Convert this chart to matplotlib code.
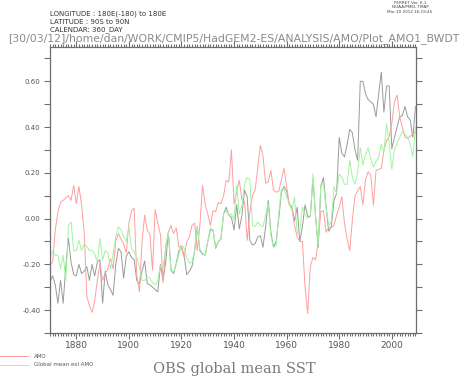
import numpy as np
import matplotlib
matplotlib.use('Agg')
import matplotlib.pyplot as plt
from matplotlib.ticker import MultipleLocator, FormatStrFormatter

# Annual values, 1870-2009
years = np.arange(1870, 2010)

amo = [
    -0.20, -0.19, -0.05, 0.03, 0.07, 0.08, 0.09, 0.10, 0.08, 0.145,     # 1870s
    0.065, 0.14, 0.06, -0.06, -0.34, -0.38, -0.41, -0.36, -0.27, -0.195,  # 1880s
    -0.27, -0.24, -0.22, -0.175, -0.22, -0.10, -0.065, -0.09, -0.11, -0.15,  # 1890s
    -0.02, 0.035, 0.045, -0.25, -0.32, -0.10, 0.015, -0.05, -0.07, -0.225,  # 1900s
    0.04, -0.02, -0.07, -0.28, -0.12, -0.06, -0.03, -0.065, -0.04, -0.125,  # 1910s
    -0.12, -0.17, -0.10, -0.08, -0.03, -0.02, -0.14, -0.03, 0.145, 0.065,  # 1920s
    0.02, -0.03, 0.035, 0.03, 0.07, 0.065, 0.10, 0.167, 0.16, 0.30,      # 1930s
    0.065, 0.12, 0.167, 0.08, 0.075, -0.095, 0.03, 0.10, 0.125, 0.22,    # 1940s
    0.32, 0.275, 0.155, 0.16, 0.21, 0.125, 0.115, 0.12, 0.17, 0.22,      # 1950s
    0.14, 0.06, 0.045, -0.03, -0.08, -0.10, -0.10, -0.30, -0.415, -0.21,  # 1960s
    -0.17, -0.18, -0.10, 0.03, 0.035, -0.06, -0.04, -0.04, -0.03, 0.015,  # 1970s
    0.05, 0.095, -0.02, -0.09, -0.14, -0.005, 0.10, 0.12, 0.14, 0.06,    # 1980s
    0.17, 0.205, 0.19, 0.06, 0.21, 0.215, 0.22, 0.30, 0.34, 0.36,        # 1990s
    0.415, 0.51, 0.54, 0.445, 0.40, 0.355, 0.35, 0.36, 0.37, 0.38,       # 2000s
]

glob_exl_amo = [
    -0.17, -0.14, -0.16, -0.16, -0.22, -0.16, -0.27, -0.03, -0.015, -0.14,
    -0.14, -0.095, -0.14, -0.11, -0.12, -0.14, -0.14, -0.155, -0.19, -0.087,
    -0.18, -0.14, -0.15, -0.22, -0.155, -0.08, -0.035, -0.05, -0.08, -0.10,
    -0.035, -0.13, -0.145, -0.17, -0.21, -0.27, -0.27, -0.255, -0.26, -0.28,
    -0.29, -0.27, -0.205, -0.21, -0.13, -0.06, -0.22, -0.235, -0.20, -0.155,
    -0.115, -0.13, -0.17, -0.195, -0.19, -0.14, -0.035, -0.135, -0.15, -0.16,
    -0.10, -0.04, -0.05, -0.125, -0.10, -0.087, 0.02, 0.035, 0.015, 0.02,
    -0.005, 0.145, 0.02, 0.06, 0.15, 0.18, 0.17, -0.03, -0.035, -0.015,
    -0.03, -0.035, 0.015, 0.065, -0.075, -0.125, -0.12, 0.02, 0.13, 0.13,
    0.095, 0.065, 0.035, 0.095, -0.065, -0.05, 0.05, 0.02, 0.0, 0.01,
    0.195, 0.005, -0.115, 0.15, 0.15, 0.05, -0.035, -0.01, 0.14, 0.11,
    0.195, 0.18, 0.15, 0.15, 0.255, 0.18, 0.15, 0.20, 0.31, 0.235,
    0.28, 0.31, 0.26, 0.225, 0.25, 0.265, 0.325, 0.29, 0.415, 0.33,
    0.215, 0.30, 0.33, 0.355, 0.38, 0.37, 0.355, 0.33, 0.27, 0.40,
]

glob_mean = [
    -0.277, -0.25, -0.29, -0.37, -0.27, -0.37, -0.21, -0.087, -0.19, -0.245,
    -0.25, -0.20, -0.24, -0.23, -0.21, -0.27, -0.20, -0.25, -0.19, -0.18,
    -0.37, -0.23, -0.29, -0.31, -0.335, -0.20, -0.13, -0.145, -0.26, -0.165,
    -0.145, -0.17, -0.18, -0.27, -0.285, -0.23, -0.185, -0.285, -0.29, -0.30,
    -0.31, -0.32, -0.20, -0.27, -0.19, -0.06, -0.225, -0.24, -0.195, -0.14,
    -0.125, -0.16, -0.245, -0.23, -0.21, -0.14, -0.035, -0.14, -0.155, -0.16,
    -0.10, -0.05, -0.05, -0.13, -0.10, -0.09, 0.02, 0.05, 0.015, 0.005,
    -0.05, 0.06, -0.045, 0.015, 0.125, 0.095, -0.095, -0.115, -0.11, -0.08,
    -0.075, -0.125, -0.035, 0.08, -0.06, -0.125, -0.10, 0.0, 0.115, 0.14,
    0.12, 0.065, 0.05, -0.01, 0.05, -0.10, -0.035, 0.06, 0.01, 0.01,
    0.175, 0.01, -0.125, 0.14, 0.18, 0.05, -0.055, -0.035, 0.08, 0.11,
    0.355, 0.285, 0.27, 0.325, 0.39, 0.375, 0.30, 0.255, 0.60, 0.60,
    0.545, 0.52, 0.51, 0.50, 0.445, 0.545, 0.64, 0.465, 0.58, 0.58,
    0.305, 0.355, 0.40, 0.445, 0.45, 0.49, 0.445, 0.43, 0.355, 0.49,
]

header_lines = ['LONGITUDE : 180E(-180) to 180E', 'LATITUDE : 90S to 90N', 'CALENDAR: 360_DAY']
ferret_lines = ['FERRET Ver. 6.1', 'NOAA/PMEL TMAP', 'Mar 30 2012 16:19:45']
path_title = '[30/03/12]/home/dan/WORK/CMIP5/HadGEM2-ES/ANALYSIS/AMO/Plot_AMO1_BWDT'
bottom_title = 'OBS global mean SST'

red = '#ff9e9e'
green = '#a0f5a0'
gray = '#9a9a9a'
axis_col = '#6e6e6e'

fig = plt.figure(figsize=(4.61, 3.77), dpi=100)
ax = fig.add_axes([0.1085, 0.1167, 0.7939, 0.7586])

ax.plot(years, glob_mean, color=gray, linewidth=0.7)
ax.plot(years, amo, color=red, linewidth=0.7)
ax.plot(years, glob_exl_amo, color=green, linewidth=0.7)

ax.set_xlim(1870, 2009.2)
ax.set_ylim(-0.5, 0.75)

# ferret style ticks: outward on all four sides
ax.xaxis.set_major_locator(MultipleLocator(20))
ax.xaxis.set_minor_locator(MultipleLocator(1))
ax.yaxis.set_major_locator(MultipleLocator(0.2))
ax.yaxis.set_minor_locator(MultipleLocator(0.1))
ax.yaxis.set_major_formatter(FormatStrFormatter('%.2f'))
ax.tick_params(which='both', direction='out', colors=axis_col, top=True, right=True,
               labeltop=False, labelright=False, width=0.8)
ax.tick_params(axis='x', which='major', length=4, labelsize=6.5, pad=2, labelcolor='#555555')
ax.tick_params(axis='x', which='minor', length=2)
ax.tick_params(axis='y', which='both', length=4, labelsize=5, pad=3, labelcolor='#555555')
for s in ax.spines.values():
    s.set_color(axis_col)
    s.set_linewidth(0.9)

# header text
for i, line in enumerate(header_lines):
    fig.text(50 / 461, 1 - (14 + i * 8) / 377, line, fontsize=5, color='#333333', va='center')
for i, line in enumerate(ferret_lines):
    fig.text(410 / 461, 1 - (3 + i * 4.3) / 377, line, fontsize=3, color='#444444',
             ha='center', va='center')
fig.text(234 / 461, 1 - 38.5 / 377, path_title, fontsize=7.8, color='#8a8a8a', ha='center', va='center')
fig.text(234 / 461, 1 - 369 / 377, bottom_title, fontsize=10.5, color='#7a7a7a',
         family='DejaVu Serif', ha='center', va='center')

# legend key at lower left
fig.add_artist(plt.Line2D([0, 28 / 461], [1 - 356 / 377] * 2, color=red, linewidth=0.7))
fig.add_artist(plt.Line2D([0, 28 / 461], [1 - 364.5 / 377] * 2, color=green, linewidth=0.7))
fig.text(34 / 461, 1 - 356 / 377, 'AMO', fontsize=4, color='#555555', va='center')
fig.text(34 / 461, 1 - 364.5 / 377, 'Global mean exl AMO', fontsize=4, color='#555555', va='center')

fig.savefig('out.png', dpi=100)
